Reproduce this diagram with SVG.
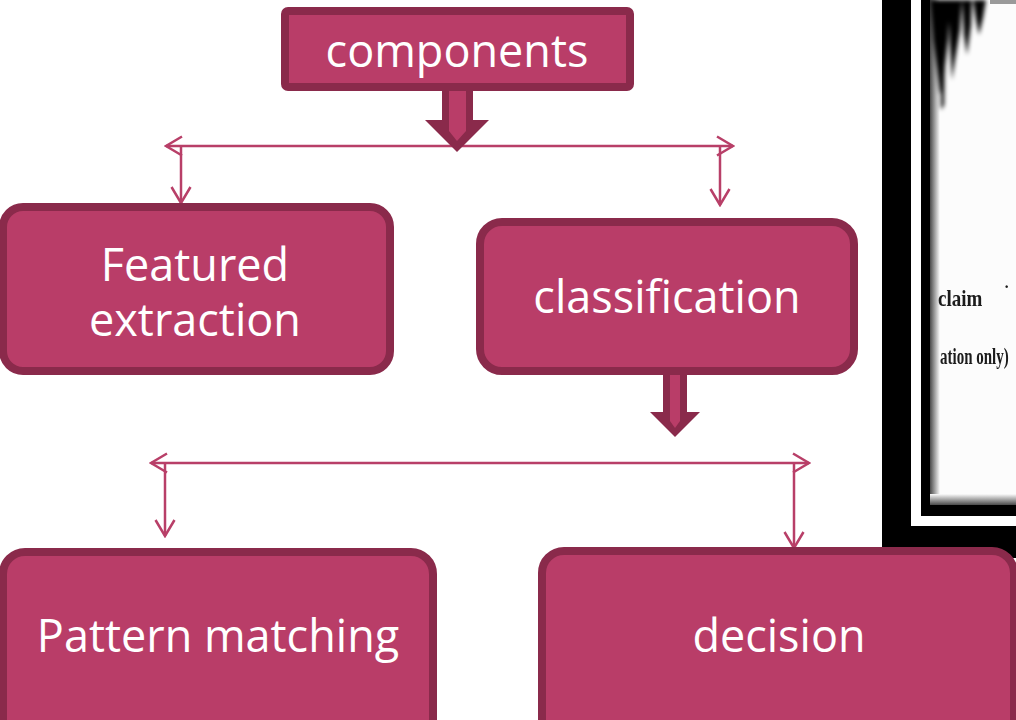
<svg xmlns="http://www.w3.org/2000/svg" width="1016" height="720" viewBox="0 0 1016 720">
  <style>
    .box { fill: #B93D68; stroke: #8A2A4B; stroke-width: 8; }
    .lbl { font-family: "Open Sans", "Noto Sans", sans-serif; font-size: 45px; fill: #ffffff; text-anchor: middle; }
    .con { stroke: #B83F68; stroke-width: 2.5; fill: none; }
    .blk-out { fill: #8A2A4B; }
    .blk-in { fill: #B93D68; }
    .scan { font-family: "Liberation Serif", serif; fill: #1a1a1a; font-weight: bold; }
  </style>
  <defs>
    <marker id="chev" viewBox="0 0 20 22" refX="18" refY="11" markerWidth="20" markerHeight="22" markerUnits="userSpaceOnUse" orient="auto-start-reverse">
      <path d="M2,1.5 L18,11 L2,20.5" fill="none" stroke="#B83F68" stroke-width="2.5"/>
    </marker>
    <filter id="blur" x="-30%" y="-10%" width="160%" height="120%">
      <feGaussianBlur stdDeviation="2"/>
    </filter>
    <filter id="soft" x="-5%" y="-20%" width="110%" height="140%">
      <feGaussianBlur stdDeviation="0.6"/>
    </filter>
    <linearGradient id="shL" x1="0" y1="0" x2="1" y2="0">
      <stop offset="0" stop-color="#4a4a4a"/>
      <stop offset="1" stop-color="#fcfcfc"/>
    </linearGradient>
    <linearGradient id="shB" x1="0" y1="0" x2="0" y2="1">
      <stop offset="0" stop-color="#fcfcfc"/>
      <stop offset="1" stop-color="#4a4a4a"/>
    </linearGradient>
    <clipPath id="photoClip">
      <rect x="930" y="0" width="86" height="505"/>
    </clipPath>
  </defs>

  <rect x="0" y="0" width="1016" height="720" fill="#ffffff"/>

  <!-- photo fragment at right -->
  <g id="photo">
    <rect x="882" y="-2" width="140" height="560" fill="#000000"/>
    <rect x="911" y="-2" width="110" height="528" fill="#ffffff"/>
    <rect x="921" y="-2" width="100" height="518" fill="#000000"/>
    <rect x="930" y="0" width="90" height="505" fill="#fcfcfc"/>
    <rect x="930" y="0" width="10" height="505" fill="url(#shL)"/>
    <rect x="930" y="494" width="90" height="11" fill="url(#shB)"/>
    <g clip-path="url(#photoClip)">
      <g filter="url(#blur)" fill="#060606">
        <path d="M930,0 L950,0 L948,40 L944,75 L940,95 L937,70 L933,40 Z"/>
        <path d="M948,0 L962,0 L960,30 L955,60 L952,80 L950,45 Z"/>
        <path d="M962,0 L972,0 L971,25 L967,55 L964,35 Z"/>
        <path d="M973,0 L986,0 L983,18 L979,35 L976,20 Z"/>
        <path d="M940,40 L945,45 L944,105 L941,110 Z"/>
      </g>
      <rect x="990" y="0" width="30" height="4" fill="#9a9a9a" filter="url(#soft)"/>
    </g>
    <g filter="url(#soft)">
      <text class="scan" transform="translate(938,306) scale(1,1.25)" font-size="19">claim</text>
      <text class="scan" x="1004" y="292" font-size="16">·</text>
      <text class="scan" transform="translate(940,364) scale(1,1.5)" font-size="15">ation only)</text>
    </g>
  </g>

  <!-- connectors -->
  <g id="connectors">
    <line class="con" x1="166" y1="146" x2="733" y2="146" marker-start="url(#chev)" marker-end="url(#chev)"/>
    <line class="con" x1="181" y1="146" x2="181" y2="203" marker-end="url(#chev)"/>
    <line class="con" x1="720" y1="146" x2="720" y2="205" marker-end="url(#chev)"/>
    <line class="con" x1="151" y1="463" x2="809" y2="463" marker-start="url(#chev)" marker-end="url(#chev)"/>
    <line class="con" x1="165" y1="463" x2="165" y2="536" marker-end="url(#chev)"/>
    <line class="con" x1="794" y1="463" x2="794" y2="548" marker-end="url(#chev)"/>
    <!-- block arrow from components -->
    <polygon class="blk-out" points="442,86 473,86 473,120 489,120 457,152 425,120 442,120"/>
    <polygon class="blk-in" points="449,86 466,86 466,131 457,141 449,131"/>
    <!-- block arrow from classification -->
    <polygon class="blk-out" points="663,372 687,372 687,412 700,412 675,437 650,412 663,412"/>
    <polygon class="blk-in" points="670,372 680,372 680,421 675,428 670,421"/>
  </g>

  <g id="node-components">
    <rect class="box" x="285" y="11" width="345" height="76" rx="3"/>
    <text class="lbl" x="457" y="67">components</text>
  </g>

  <g id="node-featured-extraction">
    <rect class="box" x="3" y="207" width="387" height="164" rx="20"/>
    <text class="lbl" x="195" y="281">Featured</text>
    <text class="lbl" x="195" y="336">extraction</text>
  </g>

  <g id="node-classification">
    <rect class="box" x="480" y="222" width="374" height="149" rx="22"/>
    <text class="lbl" x="667" y="313" font-size="46">classification</text>
  </g>

  <g id="node-pattern-matching">
    <rect class="box" x="3" y="552" width="430" height="200" rx="22"/>
    <text class="lbl" x="218" y="652">Pattern matching</text>
  </g>

  <g id="node-decision">
    <rect class="box" x="542" y="551" width="472" height="200" rx="22"/>
    <text class="lbl" x="779" y="652">decision</text>
  </g>
</svg>
